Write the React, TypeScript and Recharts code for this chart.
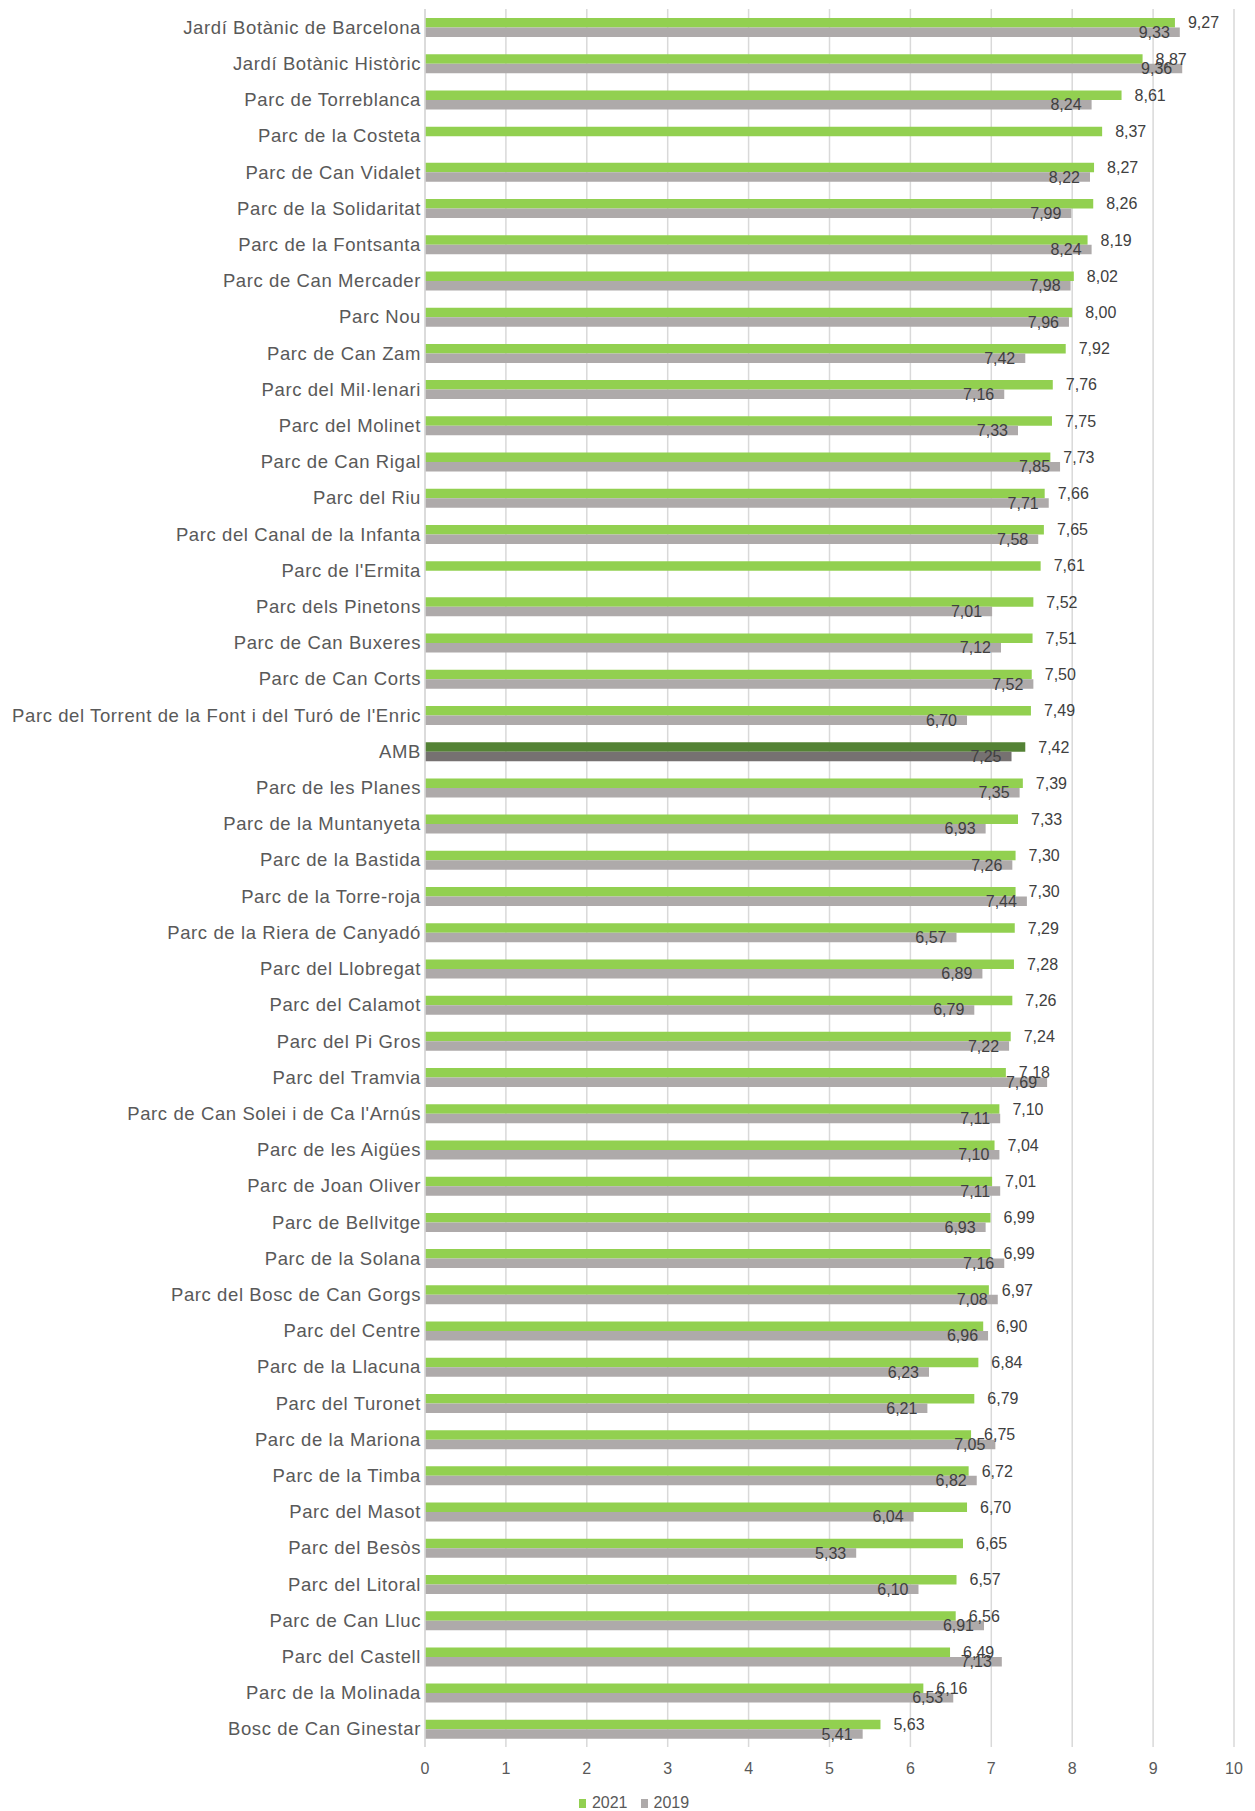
import React from "react";
import { BarChart, Bar, XAxis, YAxis, CartesianGrid, Legend, LabelList, Cell } from "recharts";

const categories: string[] = [
  "Jardí Botànic de Barcelona",
  "Jardí Botànic Històric",
  "Parc de Torreblanca",
  "Parc de la Costeta",
  "Parc de Can Vidalet",
  "Parc de la Solidaritat",
  "Parc de la Fontsanta",
  "Parc de Can Mercader",
  "Parc Nou",
  "Parc de Can Zam",
  "Parc del Mil·lenari",
  "Parc del Molinet",
  "Parc de Can Rigal",
  "Parc del Riu",
  "Parc del Canal de la Infanta",
  "Parc de l'Ermita",
  "Parc dels Pinetons",
  "Parc de Can Buxeres",
  "Parc de Can Corts",
  "Parc del Torrent de la Font i del Turó de l'Enric",
  "AMB",
  "Parc de les Planes",
  "Parc de la Muntanyeta",
  "Parc de la Bastida",
  "Parc de la Torre-roja",
  "Parc de la Riera de Canyadó",
  "Parc del Llobregat",
  "Parc del Calamot",
  "Parc del Pi Gros",
  "Parc del Tramvia",
  "Parc de Can Solei i de Ca l'Arnús",
  "Parc de les Aigües",
  "Parc de Joan Oliver",
  "Parc de Bellvitge",
  "Parc de la Solana",
  "Parc del Bosc de Can Gorgs",
  "Parc del Centre",
  "Parc de la Llacuna",
  "Parc del Turonet",
  "Parc de la Mariona",
  "Parc de la Timba",
  "Parc del Masot",
  "Parc del Besòs",
  "Parc del Litoral",
  "Parc de Can Lluc",
  "Parc del Castell",
  "Parc de la Molinada",
  "Bosc de Can Ginestar",
];

const values2021: number[] = [
  9.27, 8.87, 8.61, 8.37, 8.27, 8.26, 8.19, 8.02, 8.0, 7.92, 7.76, 7.75, 7.73, 7.66, 7.65, 7.61,
  7.52, 7.51, 7.5, 7.49, 7.42, 7.39, 7.33, 7.3, 7.3, 7.29, 7.28, 7.26, 7.24, 7.18, 7.1, 7.04,
  7.01, 6.99, 6.99, 6.97, 6.9, 6.84, 6.79, 6.75, 6.72, 6.7, 6.65, 6.57, 6.56, 6.49, 6.16, 5.63,
];

const values2019: (number | null)[] = [
  9.33, 9.36, 8.24, null, 8.22, 7.99, 8.24, 7.98, 7.96, 7.42, 7.16, 7.33, 7.85, 7.71, 7.58, null,
  7.01, 7.12, 7.52, 6.7, 7.25, 7.35, 6.93, 7.26, 7.44, 6.57, 6.89, 6.79, 7.22, 7.69, 7.11, 7.1,
  7.11, 6.93, 7.16, 7.08, 6.96, 6.23, 6.21, 7.05, 6.82, 6.04, 5.33, 6.1, 6.91, 7.13, 6.53, 5.41,
];

const xTicks: number[] = [0, 1, 2, 3, 4, 5, 6, 7, 8, 9, 10];
const highlight = "AMB";

const GREEN = "#92D050";
const GRAY = "#AEAAAA";
const GREEN_DARK = "#548235";
const GRAY_DARK = "#767171";

const data = categories.map((name, i) => ({
  name,
  v2021: values2021[i],
  v2019: values2019[i],
}));

const fmt = (v: number) => v.toFixed(2).replace(".", ",");

const FONT = "'Liberation Sans', Arial, sans-serif";

const renderOutside = (props: any) => {
  const { x, y, width, height, value } = props;
  if (value === null || value === undefined) return null;
  return (
    <text
      x={Number(x) + Number(width) + 13}
      y={Number(y) + Number(height) / 2}
      dy="0.35em"
      textAnchor="start"
      fontSize={16}
      fontFamily={FONT}
      fill="#404040"
    >
      {fmt(Number(value))}
    </text>
  );
};

const renderInside = (props: any) => {
  const { x, y, width, height, value } = props;
  if (value === null || value === undefined) return null;
  return (
    <text
      x={Number(x) + Number(width) - 10}
      y={Number(y) + Number(height) / 2}
      dy="0.35em"
      textAnchor="end"
      fontSize={16}
      fontFamily={FONT}
      fill="#404040"
    >
      {fmt(Number(value))}
    </text>
  );
};

const LegendContent = () => (
  <div
    style={{
      display: "flex",
      justifyContent: "center",
      alignItems: "center",
      height: 26,
      paddingTop: 10,
      paddingLeft: 34,
      boxSizing: "border-box",
      fontFamily: FONT,
      fontSize: 16,
      color: "#595959",
      lineHeight: "16px",
    }}
  >
    <span style={{ display: "inline-block", width: 7, height: 9, background: GREEN, marginRight: 6 }} />
    <span style={{ marginRight: 13 }}>2021</span>
    <span style={{ display: "inline-block", width: 7, height: 9, background: GRAY, marginRight: 6 }} />
    <span>2019</span>
  </div>
);

export default function App() {
  return (
    <div style={{ width: 1255, height: 1811, background: "#fff" }}>
      <style>{`body{margin:0;}`}</style>
      <BarChart
        width={1255}
        height={1811}
        data={data}
        layout="vertical"
        margin={{ top: 9, right: 21, bottom: 0, left: 0 }}
        barGap={0}
        barSize={9.5}
      >
        <CartesianGrid horizontal={false} vertical={true} stroke="#D9D9D9" strokeWidth={1.5} />
        <XAxis
          type="number"
          domain={[0, 10]}
          ticks={xTicks}
          axisLine={false}
          tickLine={false}
          tickMargin={10}
          height={38}
          tick={{ fontSize: 16, fill: "#595959", fontFamily: FONT }}
          interval={0}
        />
        <YAxis
          type="category"
          dataKey="name"
          width={425}
          axisLine={{ stroke: "#D9D9D9", strokeWidth: 1.5 }}
          tickLine={false}
          tickSize={0}
          tickMargin={4}
          interval={0}
          tick={{ fontSize: 18.5, fill: "#595959", fontFamily: FONT, letterSpacing: 0.6 }}
        />
        <Legend verticalAlign="bottom" content={<LegendContent />} />
        <Bar dataKey="v2021" name="2021" fill={GREEN} isAnimationActive={false}>
          {data.map((d) => (
            <Cell key={d.name} fill={d.name === highlight ? GREEN_DARK : GREEN} />
          ))}
          <LabelList dataKey="v2021" content={renderOutside} />
        </Bar>
        <Bar dataKey="v2019" name="2019" fill={GRAY} isAnimationActive={false}>
          {data.map((d) => (
            <Cell key={d.name} fill={d.name === highlight ? GRAY_DARK : GRAY} />
          ))}
          <LabelList dataKey="v2019" content={renderInside} />
        </Bar>
      </BarChart>
    </div>
  );
}
